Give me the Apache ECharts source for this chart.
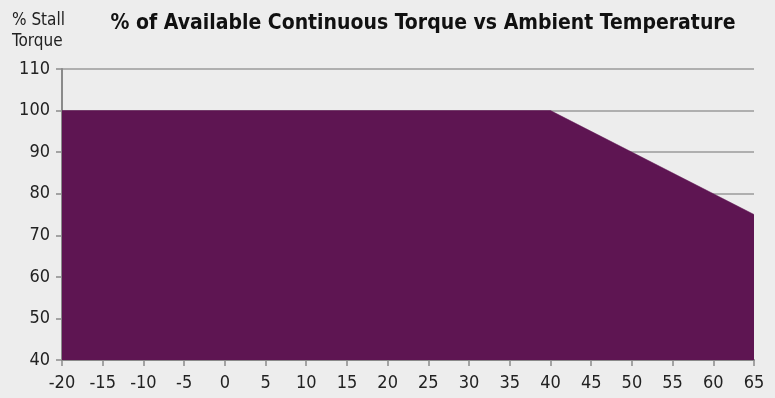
<!DOCTYPE html>
<html><head><meta charset="utf-8">
<script src="https://cdn.jsdelivr.net/npm/echarts@6/dist/echarts.min.js"></script>
<style>html,body{margin:0;padding:0;background:#ededed;}#c{width:775px;height:398px;}</style>
</head><body><div id="c"></div>
<script>
const temps = [-20, 40, 65];
const torque = [100, 100, 75];
const xTicks = {min: -20, max: 65, interval: 5};
const yTicks = {min: 40, max: 110, interval: 10};
const titleText = '% of Available Continuous Torque vs Ambient Temperature';
const yName = '% Stall\nTorque';

const FONT = '"Liberation Sans Narrow", "DejaVu Sans Condensed", "Roboto Condensed", sans-serif';
const chart = echarts.init(document.getElementById('c'));
chart.setOption({
  backgroundColor: '#ededed',
  animation: false,
  title: {
    text: titleText, left: 418, textAlign: 'center', top: 8,
    textStyle: {fontFamily: FONT, fontWeight: 'bold', fontSize: 21, color: '#111'}
  },
  graphic: [{
    type: 'text', left: 12, top: 10,
    style: {text: yName, font: '17px ' + FONT, fill: '#222', lineHeight: 21, align: 'left'}
  }],
  grid: {left: 62, right: 21, top: 69, bottom: 38},
  xAxis: {
    type: 'value', min: xTicks.min, max: xTicks.max, interval: xTicks.interval,
    axisLine: {show: true, onZero: false, lineStyle: {color: '#8a8a8a', width: 2}},
    axisTick: {show: true, length: 6, lineStyle: {color: '#8a8a8a', width: 1.5}},
    axisLabel: {fontFamily: FONT, fontSize: 18, color: '#222', margin: 14},
    splitLine: {show: false}
  },
  yAxis: {
    type: 'value', min: yTicks.min, max: yTicks.max, interval: yTicks.interval,
    axisLine: {show: true, onZero: false, lineStyle: {color: '#8a8a8a', width: 2}},
    axisTick: {show: true, length: 6, lineStyle: {color: '#8a8a8a', width: 1.5}},
    axisLabel: {fontFamily: FONT, fontSize: 18, color: '#222', margin: 12},
    splitLine: {show: true, lineStyle: {color: '#9a9a9a', width: 1.5}}
  },
  series: [{
    type: 'line',
    data: temps.map((t, i) => [t, torque[i]]),
    symbol: 'none',
    lineStyle: {width: 0.5, color: '#5e1552'},
    areaStyle: {color: '#5e1552', opacity: 1, origin: 'start'}
  }]
});
</script></body></html>
